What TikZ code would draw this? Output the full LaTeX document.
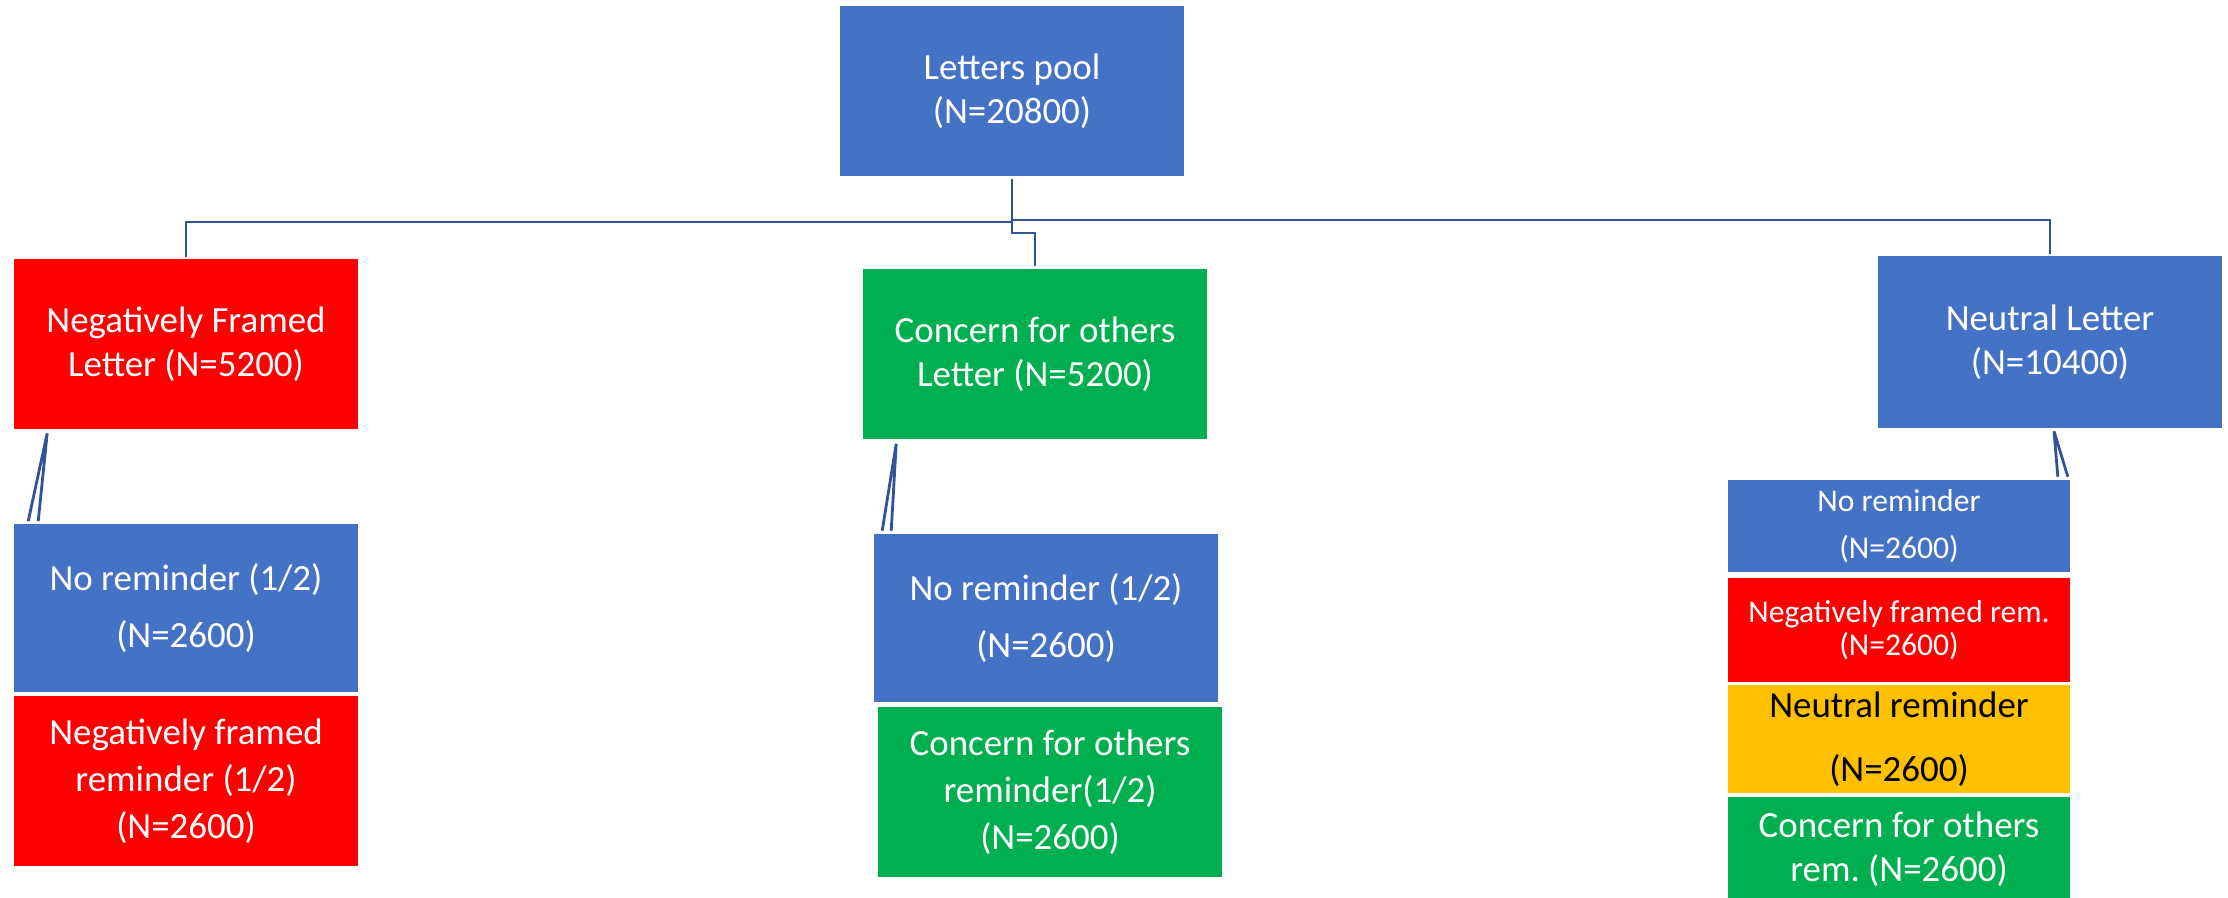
\documentclass[tikz,border=0pt]{standalone}
\usepackage{fontspec}
\setmainfont{Carlito}
\usepackage{xcolor}
\usetikzlibrary{positioning}
\frenchspacing

\definecolor{boxblue}{HTML}{4472C4}
\definecolor{boxred}{HTML}{FF0000}
\definecolor{boxgreen}{HTML}{00B050}
\definecolor{boxyellow}{HTML}{FFC000}
\definecolor{linkblue}{HTML}{2F5597}

\begin{document}
\begin{tikzpicture}[x=0.01cm, y=-0.01cm,
        letter/.style={rectangle, minimum width=3.44cm, inner sep=0pt, text=white, align=center, font=\fontsize{10.5}{12.5}\selectfont},
        remsmall/.style={letter, minimum width=3.42cm},
        link/.style={draw=linkblue, line width=0.8pt}]
    \useasboundingbox (0,0) rectangle (2228,898);

    % top level
    \node[letter, fill=boxblue, minimum height=1.70cm] (pool) at (1012,91) {Letters pool\\(N=20800)};

    % letter types
    \node[letter, fill=boxred, minimum height=1.69cm] (negframe) at (186,344) {Negatively Framed\\Letter (N=5200)};
    \node[letter, fill=boxgreen, minimum height=1.70cm] (concern) at (1035,354) {Concern for others\\Letter (N=5200)};
    \node[letter, fill=boxblue, minimum height=1.71cm] (neutral) at (2050,342) {Neutral Letter\\(N=10400)};

    % reminders, negatively framed letter
    \node[letter, fill=boxblue, minimum height=1.68cm] (noremA) at (186,608) {No reminder (1/2)\\[3.7pt](N=2600)};
    \node[letter, fill=boxred, minimum height=1.69cm, below=0.03cm of noremA] (negremA) {Negatively framed\\[0.9pt]reminder (1/2)\\[0.9pt](N=2600)};

    % reminders, concern for others letter
    \node[letter, fill=boxblue, minimum height=1.67cm] (noremB) at (1046,618) {No reminder (1/2)\\[3.7pt](N=2600)};
    \node[letter, fill=boxgreen, minimum height=1.70cm, below=0.04cm of noremB, xshift=0.04cm] (concremB) {Concern for others\\[0.9pt]reminder(1/2)\\[0.9pt](N=2600)};

    % reminders, neutral letter
    \node[remsmall, fill=boxblue, minimum height=0.91cm, font=\fontsize{9}{11}\selectfont] (noremC) at (1899,526) {No reminder\\[2.4pt](N=2600)};
    \node[remsmall, fill=boxred, minimum height=1.04cm, font=\fontsize{9}{9.4}\selectfont, below=0.05cm of noremC] (negremC) {Negatively framed rem.\\(N=2600)};
    \node[remsmall, fill=boxyellow, text=black, minimum height=1.08cm, below=0.02cm of negremC] (neutremC) {Neutral reminder\\[5.7pt](N=2600)};
    \node[remsmall, fill=boxgreen, minimum height=1.05cm, below=0.02cm of neutremC] (concremC) {Concern for others\\rem. (N=2600)};

    % tree connectors
    \coordinate (hubL) at (1012,222);
    \coordinate (hubR) at (1012,220);
    \coordinate (hubM) at (1012,233);
    \draw[link] ([yshift=-0.02cm]pool.south) -- (hubM) -| ([yshift=0.02cm]concern.north);
    \draw[link] (hubL) -| ([yshift=0.02cm]negframe.north);
    \draw[link] (hubR) -| ([yshift=0.02cm]neutral.north);

    \draw[link] ([xshift=0.34cm,yshift=-0.04cm]negframe.south west) -- ([xshift=0.15cm,yshift=0.02cm]noremA.north west)
                ([xshift=0.34cm,yshift=-0.04cm]negframe.south west) -- ([xshift=0.25cm,yshift=0.02cm]noremA.north west);
    \draw[link] ([xshift=0.34cm,yshift=-0.04cm]concern.south west) -- ([xshift=0.09cm,yshift=0.03cm]noremB.north west)
                ([xshift=0.34cm,yshift=-0.04cm]concern.south west) -- ([xshift=0.18cm,yshift=0.03cm]noremB.north west);
    \draw[link] ([xshift=0.04cm,yshift=-0.03cm]neutral.south) -- ([xshift=-0.13cm,yshift=0.03cm]noremC.north east)
                ([xshift=0.04cm,yshift=-0.03cm]neutral.south) -- ([xshift=-0.03cm,yshift=0.03cm]noremC.north east);
\end{tikzpicture}
\end{document}
